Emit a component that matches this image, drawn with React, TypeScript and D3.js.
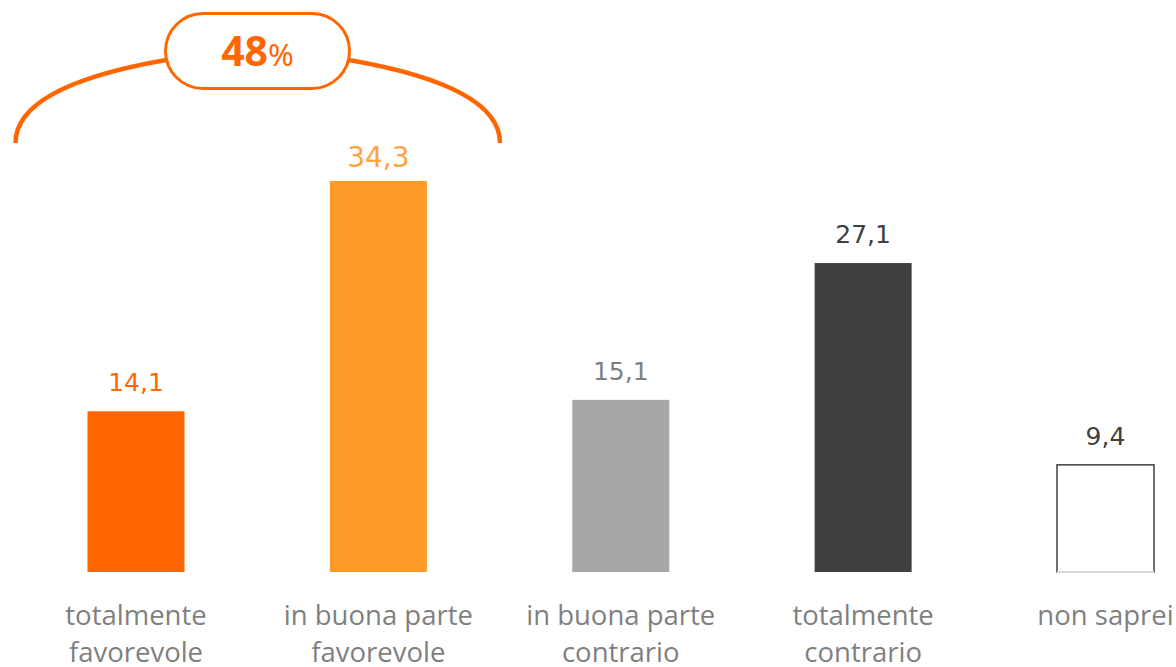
import { useEffect, useRef } from 'react';
import * as d3 from 'd3';

// data
const categories = [
    ['totalmente', 'favorevole'],
    ['in buona parte', 'favorevole'],
    ['in buona parte', 'contrario'],
    ['totalmente', 'contrario'],
    ['non saprei'],
];
const values = [14.1, 34.3, 15.1, 27.1, 9.4];
const barColors = ['#FF6600', '#FE9A27', '#A6A6A6', '#404040', '#FFFFFF'];
const labelColors = ['#FF6600', '#FFA23F', '#7F7F7F', '#404040', '#404040'];
const groupTotal = '48';

const W = 1176;
const H = 667;

const App = () => {
    const svgRef = useRef<SVGSVGElement | null>(null);

    useEffect(() => {
        const svg = d3.select(svgRef.current);
        svg.selectAll('*').remove();

        const baseline = 572;
        const barWidth = 97;
        const fmt = (v: number) => d3.format('.1f')(v).replace('.', ',');

        const x = d3.scalePoint<number>()
            .domain(d3.range(values.length))
            .range([136, 1105.5]);

        const y = d3.scaleLinear()
            .domain([0, 40])
            .range([baseline, baseline - 40 * 11.4]);

        /* bars */
        const g = svg.append('g');

        g.selectAll('.bar')
            .data(values)
            .enter()
            .append('rect')
            .attr('class', 'bar')
            .attr('x', (_, i) => x(i)! - barWidth / 2)
            .attr('y', d => y(d))
            .attr('width', barWidth)
            .attr('height', d => baseline - y(d))
            .attr('fill', (_, i) => barColors[i])
            .attr('stroke', (_, i) => (i === values.length - 1 ? '#404040' : 'none'))
            .attr('stroke-width', 1.5);

        // last (white) bar has a light bottom edge
        const last = values.length - 1;
        g.append('line')
            .attr('x1', x(last)! - barWidth / 2)
            .attr('x2', x(last)! + barWidth / 2)
            .attr('y1', baseline)
            .attr('y2', baseline)
            .attr('stroke', '#D9D9D9')
            .attr('stroke-width', 2);

        /* value labels */
        g.selectAll('.value-label')
            .data(values)
            .enter()
            .append('text')
            .attr('class', 'value-label')
            .attr('x', (_, i) => x(i)!)
            .attr('y', (d, i) => y(d) - (i === 1 ? 14 : 20))
            .attr('text-anchor', 'middle')
            .attr('fill', (_, i) => labelColors[i])
            .style('font-family', '"DejaVu Sans", sans-serif')
            .style('font-weight', '400')
            .style('font-size', (_, i) => (i === 1 ? '28px' : '25px'))
            .text(d => fmt(d));

        /* category labels */
        const cat = g.selectAll('.cat-label')
            .data(categories)
            .enter()
            .append('text')
            .attr('class', 'cat-label')
            .attr('text-anchor', 'middle')
            .attr('fill', '#7F7F7F')
            .style('font-family', '"Open Sans", sans-serif')
            .style('font-size', '27.5px');

        cat.selectAll('tspan')
            .data((d, i) => d.map(line => ({ line, i })))
            .enter()
            .append('tspan')
            .attr('x', d => x(d.i)!)
            .attr('y', (_, j) => 625 + j * 37)
            .text(d => d.line);

        /* bracket with the 48% pill */
        const orange = '#FF6600';
        const ann = svg.append('g');

        ann.append('path')
            .attr('d', 'M15.5,143 C15.5,100 80,75 166,60')
            .attr('fill', 'none')
            .attr('stroke', orange)
            .attr('stroke-width', 4.5);

        ann.append('path')
            .attr('d', 'M500,143 C500,100 435,75 349,60')
            .attr('fill', 'none')
            .attr('stroke', orange)
            .attr('stroke-width', 4.5);

        ann.append('rect')
            .attr('x', 165.5)
            .attr('y', 13.5)
            .attr('width', 184)
            .attr('height', 75)
            .attr('rx', 37.5)
            .attr('fill', '#FFFFFF')
            .attr('stroke', orange)
            .attr('stroke-width', 3);

        const pct = ann.append('text')
            .attr('x', 257.5)
            .attr('y', 66)
            .attr('text-anchor', 'middle')
            .attr('fill', orange)
            .style('font-family', '"Noto Sans", sans-serif');

        pct.append('tspan')
            .style('font-size', '41px')
            .style('font-weight', '700')
            .text(groupTotal);

        pct.append('tspan')
            .style('font-size', '31px')
            .style('font-weight', '400')
            .text('%');
    }, []);

    return (
        <svg
            ref={svgRef}
            width={W}
            height={H}
            style={{ position: 'absolute', left: 0, top: 0, background: '#fff' }}
        />
    );
};

export default App;
